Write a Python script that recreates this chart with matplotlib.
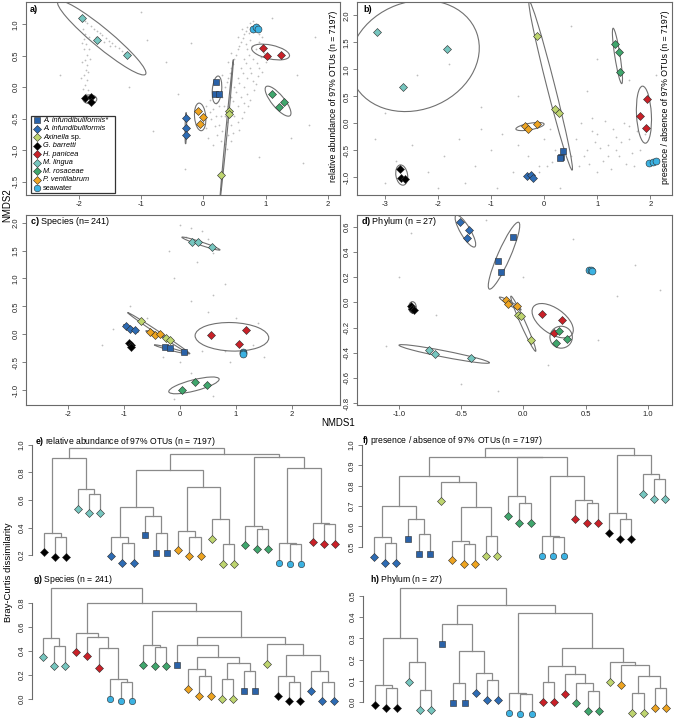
import matplotlib
matplotlib.use("Agg")
import matplotlib.pyplot as plt
from matplotlib.patches import Ellipse, Rectangle

plt.rcParams['font.family'] = ['Liberation Sans', 'DejaVu Sans']
plt.rcParams['mathtext.fontset'] = 'custom'
plt.rcParams['mathtext.rm'] = 'Liberation Sans'
plt.rcParams['mathtext.it'] = 'Liberation Sans:italic'
plt.rcParams['mathtext.bf'] = 'Liberation Sans:bold'
plt.rcParams['axes.unicode_minus'] = False

# ------------------------------------------------------------------ groups
group_keys = ['Asq', 'Adi', 'Axi', 'Gba', 'Hpa', 'Mli', 'Mro', 'Pve', 'sea']
# (italic part, upright part)
group_labels = [('A. infundibuliformis*', ''), ('A. infundibuliformis', ''), ('Axinella', ' sp.'),
                ('G. barretti', ''), ('H. panicea', ''), ('M. lingua', ''), ('M. rosaceae', ''),
                ('P. ventilabrum', ''), ('', 'seawater')]
group_colors = ['#2a62a8', '#2e6cb4', '#bed56f', '#000000', '#c92128', '#76c6bf', '#40a66d',
                '#eea421', '#3cb2e2']
group_markers = ['s', 'D', 'D', 'D', 'D', 'D', 'D', 'D', 'o']

# ------------------------------------------------------------------ NMDS sample scores
nmds_a = {
    'Asq': [(0.21, 0.09), (0.19, -0.11), (0.26, -0.10)],
    'Adi': [(-0.28, -0.49), (-0.28, -0.65), (-0.27, -0.75)],
    'Axi': [(0.41, -0.37), (0.41, -0.42), (0.29, -1.40)],
    'Gba': [(-1.90, -0.17), (-1.81, -0.15), (-1.81, -0.23)],
    'Hpa': [(0.96, 0.63), (1.02, 0.50), (1.25, 0.51)],
    'Mli': [(-1.94, 1.10), (-1.71, 0.75), (-1.23, 0.51)],
    'Mro': [(1.10, -0.10), (1.22, -0.32), (1.30, -0.23)],
    'Pve': [(-0.09, -0.375), (-0.01, -0.47), (-0.06, -0.59)],
    'sea': [(0.79, 0.92), (0.84, 0.95), (0.87, 0.93)],
}
nmds_b = {
    'Asq': [(0.35, -0.51), (0.31, -0.62), (0.30, -0.65)],
    'Adi': [(-0.32, -0.98), (-0.25, -0.95), (-0.22, -1.01)],
    'Axi': [(-0.13, 1.62), (0.20, 0.27), (0.28, 0.19)],
    'Gba': [(-2.72, -0.85), (-2.71, -1.01), (-2.62, -1.03)],
    'Hpa': [(1.94, 0.45), (1.81, 0.14), (1.92, -0.09)],
    'Mli': [(-3.15, 1.69), (-1.83, 1.37), (-2.66, 0.67)],
    'Mro': [(1.33, 1.47), (1.41, 1.32), (1.42, 0.95)],
    'Pve': [(-0.36, -0.05), (-0.31, -0.11), (-0.13, -0.02)],
    'sea': [(1.97, -0.73), (2.06, -0.72), (2.11, -0.70)],
}
nmds_c = {
    'Asq': [(-0.26, -0.23), (-0.18, -0.25), (0.07, -0.31)],
    'Adi': [(-0.97, 0.14), (-0.90, 0.10), (-0.81, 0.07)],
    'Axi': [(-0.70, 0.24), (-0.25, -0.07), (-0.18, -0.10)],
    'Gba': [(-0.91, -0.15), (-0.88, -0.19), (-0.88, -0.22)],
    'Hpa': [(0.56, -0.02), (1.18, 0.08), (1.06, -0.18)],
    'Mli': [(0.22, 1.66), (0.33, 1.65), (0.57, 1.56)],
    'Mro': [(0.03, -0.99), (0.26, -0.85), (0.48, -0.90)],
    'Pve': [(-0.54, 0.04), (-0.45, -0.01), (-0.35, 0.0)],
    'sea': [(1.12, -0.31), (1.12, -0.34), (1.12, -0.36)],
}
nmds_d = {
    'Asq': [(-0.08, 0.52), (-0.20, 0.33), (-0.18, 0.24)],
    'Adi': [(-0.51, 0.64), (-0.44, 0.57), (-0.45, 0.51)],
    'Axi': [(-0.04, -0.10), (-0.02, -0.11), (0.06, -0.30)],
    'Gba': [(-0.90, -0.03), (-0.89, -0.05), (-0.88, -0.06)],
    'Hpa': [(0.15, -0.095), (0.31, -0.14), (0.25, -0.24)],
    'Mli': [(-0.76, -0.38), (-0.71, -0.41), (-0.42, -0.44)],
    'Mro': [(0.29, -0.23), (0.35, -0.29), (0.26, -0.32)],
    'Pve': [(-0.14, 0.02), (-0.12, -0.01), (-0.05, -0.03)],
    'sea': [(0.53, 0.26), (0.54, 0.26), (0.55, 0.25)],
}

# ellipses: (centre x, centre y, semi-major, semi-minor, angle deg)
ell_a = [(-1.63, 0.785, 0.91, 0.15, -39.4), (-1.82, -0.19, 0.11, 0.07, 0),
         (0.22, -0.04, 0.22, 0.075, 85), (-0.05, -0.47, 0.22, 0.09, 95),
         (-0.28, -0.65, 0.25, 0.012, 89), (0.375, -0.675, 1.12, 0.012, 84.5),
         (1.08, 0.56, 0.31, 0.11, -12), (1.20, -0.22, 0.30, 0.10, -50),
         (0.83, 0.935, 0.06, 0.03, 0)]
ell_b = [(-2.45, 1.25, 1.25, 1.0, 20), (0.12, 0.70, 1.62, 0.075, -75.5),
         (1.38, 1.25, 0.52, 0.05, -81), (1.88, 0.16, 0.53, 0.14, 93),
         (-0.27, -0.06, 0.27, 0.06, 10), (-2.69, -0.96, 0.19, 0.11, 100)]
ell_c = [(0.375, 1.625, 0.36, 0.03, -18.4), (-0.38, 0.02, 0.67, 0.025, -33.5),
         (-0.88, 0.105, 0.145, 0.02, -26.6), (-0.455, 0.01, 0.165, 0.02, -18),
         (-0.155, -0.27, 0.315, 0.02, -14.7), (0.93, -0.045, 0.66, 0.255, -2),
         (0.25, -0.915, 0.465, 0.10, 14.3)]
ell_d = [(-0.465, 0.565, 0.146, 0.04, -59), (-0.155, 0.37, 0.29, 0.05, 66),
         (-0.105, -0.01, 0.10, 0.015, -30), (0.0, -0.17, 0.24, 0.02, -65.6),
         (0.236, -0.146, 0.19, 0.10, -35), (0.304, -0.277, 0.09, 0.087, 0),
         (-0.635, -0.41, 0.37, 0.025, -10.9), (-0.89, -0.04, 0.045, 0.03, 90)]

# OTU scores (grey background points, read approximately)
cloud_a = [(-1.98, 1.12), (-1.90, 1.06), (-1.86, 1.02), (-1.80, 0.98), (-1.76, 0.93), (-1.70, 0.90),
           (-1.66, 0.86), (-1.62, 0.83), (-1.56, 0.78), (-1.52, 0.74), (-1.46, 0.70), (-1.42, 0.66),
           (-1.36, 0.62), (-1.30, 0.58), (-1.26, 0.55), (-1.72, 0.80), (-1.60, 0.72), (-1.50, 0.66),
           (-1.93, 0.92), (-1.90, 0.85), (-1.92, 0.76), (-1.88, 0.68), (-1.91, 0.60), (-1.87, 0.52),
           (-1.90, 0.44), (-1.86, 0.36), (-1.89, 0.28), (-1.92, 0.20), (-1.87, 0.12), (-1.90, 0.04),
           (-1.85, -0.04), (-1.88, -0.10), (-1.95, 0.40), (-1.83, 0.60), (-1.96, 0.15),
           (-1.84, 0.80), (-1.94, 0.70), (-1.85, 0.25), (-1.93, -0.02), (-1.82, 0.45),
           (0.05, -0.30), (0.10, -0.20), (0.15, -0.35), (0.20, -0.45), (0.25, -0.30), (0.30, -0.15),
           (0.35, 0.00), (0.40, 0.15), (0.45, 0.30), (0.50, 0.45), (0.55, 0.60), (0.60, 0.72),
           (0.65, 0.85), (0.70, 0.95), (0.75, 1.02), (0.80, 1.05), (0.85, 1.00), (0.35, -0.45),
           (0.40, -0.30), (0.45, -0.15), (0.50, 0.00), (0.55, 0.15), (0.60, 0.30), (0.65, 0.45),
           (0.70, 0.60), (0.75, 0.75), (0.80, 0.88), (0.90, 0.85), (0.45, -0.60), (0.50, -0.45),
           (0.55, -0.30), (0.60, -0.15), (0.65, 0.00), (0.70, 0.15), (0.75, 0.30), (0.80, 0.45),
           (0.85, 0.60), (0.90, 0.72), (0.95, 0.80), (0.40, -0.75), (0.45, -0.85), (0.35, -0.90),
           (0.30, -0.70), (0.25, -0.60), (0.55, -0.55), (0.65, -0.40), (0.75, -0.20), (0.85, 0.05),
           (0.95, 0.25), (1.00, 0.40), (0.90, 0.30), (0.80, 0.10), (0.70, -0.10), (0.00, -0.55),
           (0.05, -0.65), (0.12, -0.50), (0.18, -0.62), (0.22, -0.75), (0.28, -0.85), (-0.05, -0.40),
           (0.55, 0.80), (0.62, 0.92), (0.68, 0.68), (0.45, 0.55), (0.40, 0.40), (0.30, 0.20),
           (0.38, 0.08), (0.43, 0.22), (0.48, 0.37), (0.53, 0.52), (0.58, 0.66), (0.63, 0.78),
           (0.68, 0.90), (0.73, 0.86), (0.78, 0.66), (0.73, 0.52), (0.68, 0.38), (0.63, 0.22),
           (0.58, 0.07), (0.53, -0.08), (0.48, -0.22), (0.43, -0.38), (0.38, -0.55), (0.33, -0.30),
           (0.28, -0.45), (0.62, -0.48), (0.72, -0.30), (0.82, -0.05), (0.88, 0.18), (0.98, 0.55),
           (0.93, 0.48), (0.86, 0.38), (0.76, 0.22), (0.66, -0.25), (0.57, -0.68), (0.48, -0.72),
           (0.20, -0.25), (0.15, -0.10), (0.10, -0.40), (0.08, -0.80), (0.15, -0.92), (0.38, -0.98),
           (-0.60, 0.40), (-1.00, 1.20), (-0.40, -0.10), (1.50, 0.20), (1.70, -0.60), (1.40, -0.80),
           (-2.30, 0.20), (-0.80, -0.70), (1.10, 1.10), (-0.20, 0.70), (1.80, 0.80), (-1.50, -0.50),
           (-2.50, -1.20), (0.90, -1.10), (-0.30, -1.30), (-1.20, 0.00), (-0.90, 0.75), (1.60, -1.20)]
cloud_b = [(0.6, -0.3), (0.8, -0.5), (1.0, -0.2), (1.2, -0.4), (1.4, -0.6), (1.6, -0.3), (1.8, -0.5),
           (0.7, 0.0), (0.9, 0.1), (1.1, -0.7), (1.3, -0.1), (1.5, 0.0), (1.7, -0.8), (1.9, -0.2),
           (0.5, -0.6), (1.0, -0.9), (1.25, -0.85), (1.45, -0.35), (0.85, -0.75), (1.65, -0.55),
           (1.15, 0.05), (1.35, -0.5), (0.95, -0.35), (1.55, -0.75), (1.75, -0.15), (0.65, -0.8),
           (0.75, -0.6), (1.05, -0.45), (1.35, -0.25), (1.6, -0.05), (1.2, -0.6), (0.9, -0.15),
           (-0.5, -0.4), (-0.3, -0.6), (0.0, -0.3), (0.2, -0.5), (-0.8, -0.2), (-1.0, -0.5),
           (-1.3, -0.8), (-0.6, -0.9), (-0.1, -0.8), (0.1, -0.1), (-1.6, -0.3), (-1.9, -0.6),
           (-2.2, -0.9), (-2.5, -0.4), (-2.8, -0.7), (-3.0, -1.1), (-1.5, -1.1), (-0.9, -1.2),
           (0.3, -1.2), (-2.0, -1.2), (-3.2, -0.3), (-1.2, -0.1), (-3.0, 0.2), (-2.4, 0.9),
           (-1.8, 1.1), (0.5, 1.8), (1.0, 1.2), (1.6, 0.8), (-0.5, 0.5), (0.8, 0.6), (-1.2, 0.3),
           (2.1, 0.9), (-0.1, -0.9), (0.05, -0.8), (0.15, -0.72)]
cloud_c = [(0.0, 1.95), (0.2, 1.9), (0.4, 1.85), (0.1, 1.75), (0.5, 1.7), (0.6, 1.45), (-0.2, 1.5),
           (0.3, 1.3), (0.8, 0.9), (0.6, 0.7), (-0.1, 1.0), (0.2, 0.6), (-0.9, 0.5), (-0.6, 0.3),
           (-1.4, -0.2), (-1.2, 0.1), (-0.3, -0.4), (0.0, -0.5), (0.4, -0.3), (0.8, -0.3),
           (1.3, -0.2), (1.4, 0.2), (1.0, 0.3), (0.5, 0.4), (0.2, -0.7), (0.6, -1.1), (-0.1, -1.15),
           (1.5, -0.4), (0.9, -0.5)]
cloud_d = [(-0.9, 0.55), (-0.3, 0.65), (0.4, 0.5), (0.9, 0.3), (1.1, 0.1), (-1.1, -0.35),
           (-0.7, -0.1), (0.2, -0.5), (0.6, -0.3), (-0.2, -0.7), (-1.0, 0.2), (0.0, 0.2),
           (0.75, 0.05), (-0.5, -0.65)]

# axis ticks
ticks_a_x = [-2, -1, 0, 1, 2]
ticks_a_y = [-1.5, -1.0, -0.5, 0.0, 0.5, 1.0]
ticks_b_x = [-3, -2, -1, 0, 1, 2]
ticks_b_y = [-1.0, -0.5, 0.0, 0.5, 1.0, 1.5, 2.0]
ticks_c_x = [-2, -1, 0, 1, 2]
ticks_c_y = [-1.0, -0.5, 0.0, 0.5, 1.0, 1.5, 2.0]
ticks_d_x = [-1.0, -0.5, 0.0, 0.5, 1.0]
ticks_d_y = [-0.8, -0.6, -0.4, -0.2, 0.0, 0.2, 0.4, 0.6]

# ------------------------------------------------------------------ dendrograms
# node = [merge height, left, right]; leaf = group key
tree_e = [0.976,
          [0.908, [0.362, 'Gba', [0.328, 'Gba', 'Gba']], [0.678, 'Mli', [0.644, 'Mli', 'Mli']]],
          [0.935,
           [0.818,
            [0.547, [0.333, 'Adi', [0.285, 'Adi', 'Adi']], [0.486, 'Asq', [0.358, 'Asq', 'Asq']]],
            [0.692, [0.377, 'Pve', [0.333, 'Pve', 'Pve']], [0.459, 'Axi', [0.278, 'Axi', 'Axi']]]],
           [0.915,
            [0.413, 'Mro', [0.387, 'Mro', 'Mro']],
            [0.835, [0.285, 'sea', [0.278, 'sea', 'sea']], [0.435, 'Hpa', [0.423, 'Hpa', 'Hpa']]]]]]
tree_f = [0.984,
          [0.943,
           [0.848,
            [0.700, [0.546, 'Adi', [0.516, 'Adi', 'Adi']], [0.636, 'Asq', [0.562, 'Asq', 'Asq']]],
            [0.820, 'Axi',
             [0.697, [0.528, 'Pve', [0.513, 'Pve', 'Pve']], [0.552, 'Axi', 'Axi']]]],
           [0.939,
            [0.749, 'Mro', [0.713, 'Mro', 'Mro']],
            [0.848, [0.552, 'sea', [0.549, 'sea', 'sea']], [0.730, 'Hpa', [0.713, 'Hpa', 'Hpa']]]]],
          [0.951, [0.664, 'Gba', [0.636, 'Gba', 'Gba']], [0.857, 'Mli', [0.831, 'Mli', 'Mli']]]]
tree_g = [0.918,
          [0.509, 'Mli', [0.440, 'Mli', 'Mli']],
          [0.794,
           [0.550, 'Hpa', [0.517, 'Hpa', [0.420, 'Hpa', [0.166, 'sea', [0.144, 'sea', 'sea']]]]],
           [0.733,
            [0.448, 'Mro', [0.434, 'Mro', 'Mro']],
            [0.512,
             [0.448, 'Asq',
              [0.351, [0.246, 'Pve', [0.191, 'Pve', 'Pve']],
               [0.302, [0.163, 'Axi', 'Axi'], [0.232, 'Asq', 'Asq']]]],
             [0.454, 'Axi',
              [0.365, [0.191, 'Gba', [0.144, 'Gba', 'Gba']], [0.232, 'Adi', [0.144, 'Adi', 'Adi']]]]]]]]
tree_h = [0.534,
          [0.300, [0.081, 'Gba', [0.069, 'Gba', 'Gba']], [0.191, 'Mli', [0.059, 'Mli', 'Mli']]],
          [0.456,
           [0.366, 'Asq', [0.241, [0.092, 'Asq', 'Asq'], [0.139, 'Adi', [0.105, 'Adi', 'Adi']]]],
           [0.420,
            [0.045, 'sea', [0.039, 'sea', 'sea']],
            [0.253,
             [0.172, [0.097, 'Hpa', 'Hpa'], [0.131, 'Hpa', [0.089, 'Mro', [0.055, 'Mro', 'Mro']]]],
             [0.191, 'Axi', [0.175, 'Pve', [0.123, [0.042, 'Axi', 'Axi'], [0.069, 'Pve', 'Pve']]]]]]]]
hang_e, hang_f, hang_g, hang_h = 0.14, 0.096, 0.163, 0.094
ticks_e = [0.2, 0.4, 0.6, 0.8, 1.0]
ticks_f = [0.5, 0.6, 0.7, 0.8, 0.9, 1.0]
ticks_g = [0.0, 0.2, 0.4, 0.6, 0.8]
ticks_h = [0.0, 0.1, 0.2, 0.3, 0.4, 0.5]

# ------------------------------------------------------------------ figure helpers
W, H = 675, 721
fig = plt.figure(figsize=(W / 100, H / 100), dpi=100)
AXC = '#6a6a6a'


def add_ax(box):
    l, t, r, b = box
    return fig.add_axes([l / W, 1 - b / H, (r - l) / W, (b - t) / H])


def ftext(px, py, s, **kw):
    return fig.text(px / W, 1 - py / H, s, **kw)


def style_of(k):
    i = group_keys.index(k)
    return group_colors[i], group_markers[i]


def msize(m, scale=1.0):
    return {'D': 4.3, 's': 4.6, 'o': 5.0}[m] * scale


def fmt_ticks(vals):
    if all(isinstance(v, int) for v in vals):
        return ['%d' % v for v in vals]
    return ['%.1f' % v for v in vals]


def style_ticks(ax, xt, yt):
    ax.set_xticks(xt)
    ax.set_xticklabels(fmt_ticks(xt))
    ax.set_yticks(yt)
    ax.set_yticklabels(fmt_ticks(yt))
    ax.tick_params(length=3, width=0.6, pad=1.5, labelsize=5.5, color=AXC, labelcolor='#222222')
    ax.tick_params(axis='y', labelrotation=90)
    for lbl in ax.get_yticklabels():
        lbl.set_verticalalignment('center')


def nmds_panel(box, xlim, ylim, pts, ells, cloud, xt, yt):
    ax = add_ax(box)
    ax.set_xlim(xlim)
    ax.set_ylim(ylim)
    ax.scatter([p[0] for p in cloud], [p[1] for p in cloud], s=1.6, c='#bdbdbd', linewidths=0, zorder=1)
    for cx, cy, a, b, ang in ells:
        ax.add_patch(Ellipse((cx, cy), 2 * a, 2 * b, angle=ang, fill=False, ec='#707070', lw=0.8, zorder=2))
    for k in group_keys:
        col, m = style_of(k)
        ax.plot([p[0] for p in pts[k]], [p[1] for p in pts[k]], ls='none', marker=m, ms=msize(m),
                mfc=col, mec='#2b2b2b', mew=0.4, zorder=3)
    for s in ax.spines.values():
        s.set_color(AXC)
        s.set_linewidth(0.8)
    style_ticks(ax, xt, yt)
    return ax


def draw_tree(ax, node, hang, counter, leaves):
    if isinstance(node, str):
        x = counter[0]
        counter[0] += 1
        return x, None, node
    h, left, right = node
    xs, tops = [], []
    for child in (left, right):
        cx, ch, key = draw_tree(ax, child, hang, counter, leaves)
        if ch is None:
            ch = h - hang
            leaves.append((cx, ch, key))
        xs.append(cx)
        tops.append(ch)
    ax.plot([xs[0], xs[0], xs[1], xs[1]], [tops[0], h, h, tops[1]], color='#8a8a8a', lw=0.9,
            solid_joinstyle='miter', zorder=1)
    return (xs[0] + xs[1]) / 2, h, None


def dendro_panel(box, xlim, ylim, tree, hang, yt):
    ax = add_ax(box)
    ax.set_xlim(xlim)
    ax.set_ylim(ylim)
    leaves = []
    draw_tree(ax, tree, hang, [1], leaves)
    for x, y, k in leaves:
        col, m = style_of(k)
        ax.plot([x], [y], ls='none', marker=m, ms=msize(m, 0.92), mfc=col, mec='#2b2b2b', mew=0.4,
                zorder=3)
    for s in ('top', 'right', 'bottom'):
        ax.spines[s].set_visible(False)
    ax.spines['left'].set_bounds(yt[0], yt[-1])
    ax.spines['left'].set_color(AXC)
    ax.spines['left'].set_linewidth(0.8)
    ax.set_xticks([])
    ax.set_yticks(yt)
    ax.set_yticklabels(['%.1f' % v for v in yt])
    ax.tick_params(axis='y', length=3, width=0.6, pad=1.5, labelsize=5.5, color=AXC,
                   labelcolor='#222222', labelrotation=90)
    for lbl in ax.get_yticklabels():
        lbl.set_verticalalignment('center')
    ax.patch.set_alpha(0)
    return ax


# ------------------------------------------------------------------ NMDS panels
box_a = (26, 2, 340, 195)
ax_a = nmds_panel(box_a, ((26 - 203.3) / 62.3, (340 - 203.3) / 62.3), ((87.3 - 195) / 63.0, (87.3 - 2) / 63.0),
                  nmds_a, ell_a, cloud_a, ticks_a_x, ticks_a_y)
box_b = (357, 2, 672, 195)
ax_b = nmds_panel(box_b, ((357 - 544.3) / 53.0, (672 - 544.3) / 53.0), ((123.3 - 195) / 53.9, (123.3 - 2) / 53.9),
                  nmds_b, ell_b, cloud_b, ticks_b_x, ticks_b_y)
box_c = (26, 215, 340, 405)
ax_c = nmds_panel(box_c, ((26 - 180) / 55.83, (340 - 180) / 55.83), ((334.3 - 405) / 55.83, (334.3 - 215) / 55.83),
                  nmds_c, ell_c, cloud_c, ticks_c_x, ticks_c_y)
box_d = (357, 215, 672, 405)
ax_d = nmds_panel(box_d, ((357 - 523.3) / 124.5, (672 - 523.3) / 124.5), ((302.3 - 405) / 126.0, (302.3 - 215) / 126.0),
                  nmds_d, ell_d, cloud_d, ticks_d_x, ticks_d_y)

# legend in panel a
l, t, r, b = box_a


def pa(px, py):
    return ((px - l) / (r - l), (b - py) / (b - t))


x0, y0 = pa(31, 193)
x1, y1 = pa(115, 116)
ax_a.add_patch(Rectangle((x0, y0), x1 - x0, y1 - y0, transform=ax_a.transAxes, fc='white',
                         ec='#333333', lw=0.9, zorder=5))
renderer = fig.canvas.get_renderer()
for i, k in enumerate(group_keys):
    py = 120.0 + i * 8.55
    col, m = style_of(k)
    mx, my = pa(37, py)
    ax_a.plot([mx], [my], transform=ax_a.transAxes, ls='none', marker=m, ms=msize(m, 0.95), mfc=col,
              mec='#2b2b2b', mew=0.4, zorder=6, clip_on=False)
    ital, upright = group_labels[i]
    xpx = 43.0
    if ital:
        t1 = ftext(xpx, py, ital, fontsize=5.3, fontstyle='italic', va='center', ha='left', zorder=6)
        xpx += t1.get_window_extent(renderer).width
    if upright:
        ftext(xpx, py, upright, fontsize=5.3, va='center', ha='left', zorder=6)

# ------------------------------------------------------------------ dendrogram panels
sp = 11.19
dendro_panel((32, 440, 346, 570), (1 - 12 / sp, 1 + 302 / sp), ((582.5 - 570) / 137.5, (582.5 - 440) / 137.5),
             tree_e, hang_e, ticks_e)
dendro_panel((362, 440, 676, 570), (1 - 12 / sp, 1 + 302 / sp), (1.0 - (570 - 445) / 203.3, 1.0 - (440 - 445) / 203.3),
             tree_f, hang_f, ticks_f)
dendro_panel((32, 575, 346, 713), (1 - 10.7 / sp, 1 + 303.3 / sp), ((699 - 713) / 120.4, (699 - 575) / 120.4),
             tree_g, hang_g, ticks_g)
dendro_panel((363, 575, 677, 719), (1 - 12 / sp, 1 + 302 / sp), ((702.3 - 719) / 213.3, (702.3 - 575) / 213.3),
             tree_h, hang_h, ticks_h)

# ------------------------------------------------------------------ texts
ftext(30, 10, 'a)', fontsize=6.5, fontweight='bold', va='center')
ftext(363, 10, 'b)', fontsize=6.5, fontweight='bold', va='center')
ftext(30, 222, r'$\mathbf{c)}$ Species (n= 241)', fontsize=6.5, va='center')
ftext(361, 222, r'$\mathbf{d)}$ Phylum (n = 27)', fontsize=6.5, va='center')
ftext(35, 442, r'$\mathbf{e)}$ relative abundance of 97% OTUs (n = 7197)', fontsize=6.2, va='center')
ftext(362, 441, r'$\mathbf{f)}$ presence / absence of 97% OTUs (n = 7197)', fontsize=6.2, va='center')
ftext(33, 580, r'$\mathbf{g)}$ Species (n = 241)', fontsize=6.2, va='center')
ftext(370, 580, r'$\mathbf{h)}$ Phylum (n = 27)', fontsize=6.2, va='center')
ftext(334, 96, 'relative abundance of 97% OTUs (n = 7197)', fontsize=6.3, rotation=90, ha='center', va='center')
ftext(666, 97, 'presence / absence of 97% OTUs (n = 7197)', fontsize=6.3, rotation=90, ha='center', va='center')
ftext(7, 205, 'NMDS2', fontsize=7, rotation=90, ha='center', va='center')
ftext(338, 423, 'NMDS1', fontsize=7, ha='center', va='center')
ftext(9, 572, 'Bray-Curtis dissimilarity', fontsize=6.8, rotation=90, ha='center', va='center')

fig.savefig('out.png', dpi=100)
